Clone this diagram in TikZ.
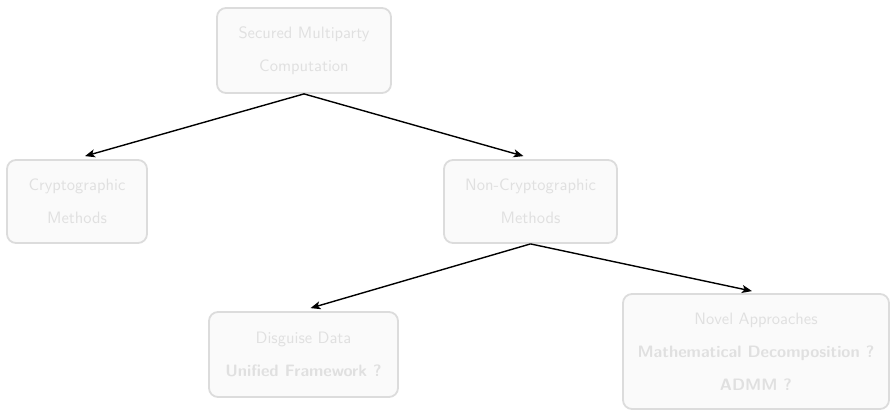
\documentclass[tikz,border=0pt]{standalone}
\usepackage{fontspec}
% keep the 10pt design size of Latin Modern Sans at every size
\setsansfont{lmsans10-regular}[Extension=.otf, BoldFont=lmsans10-bold,
  ItalicFont=lmsans10-oblique, BoldItalicFont=lmsans10-boldoblique]
\usetikzlibrary{arrows.meta,calc}
\definecolor{boxline}{HTML}{DCDCDC}
\definecolor{boxfill}{HTML}{FAFAFA}
\definecolor{boxtext}{HTML}{E0E0E0}
\begin{document}
\begin{tikzpicture}[x=1pt,y=-1pt,
  font=\sffamily\fontsize{16.5}{33}\selectfont,
  box/.style={draw=boxline, fill=boxfill, text=boxtext, line width=1.8pt,
    rounded corners=9pt, align=center, inner sep=0pt},
  arr/.style={draw=black, line width=1.4pt,
    -{Stealth[length=10pt,width=8pt,inset=2.5pt]}}]
\useasboundingbox (0,0) rectangle (891,410);

% the tree of approaches
\node[box, minimum width=174pt, minimum height=85pt] (smc) at (304,50.5)
  {Secured Multiparty\\Computation};
\node[box, minimum width=140pt, minimum height=83pt] (crypto) at (77,201.5)
  {Cryptographic\\Methods};
\node[box, minimum width=173pt, minimum height=83pt] (noncrypto) at (530.5,201.5)
  {Non-Cryptographic\\Methods};
\node[box, minimum width=189pt, minimum height=85pt] (disguise) at (303.5,354.5)
  {Disguise Data\\\textbf{Unified Framework ?}};
\node[box, minimum width=266pt, minimum height=115pt] (novel) at (756,351.5)
  {Novel Approaches\\\textbf{Mathematical Decomposition ?}\\\textbf{ADMM ?}};

% connectors
\draw[arr] (smc.south) -- ($(crypto.north)+(8,-3)$);
\draw[arr] (smc.south) -- ($(noncrypto.north)+(-7,-3)$);
\draw[arr] (noncrypto.south) -- ($(disguise.north)+(7,-3)$);
\draw[arr] (noncrypto.south) -- ($(novel.north)+(-4,-2)$);
\end{tikzpicture}
\end{document}
